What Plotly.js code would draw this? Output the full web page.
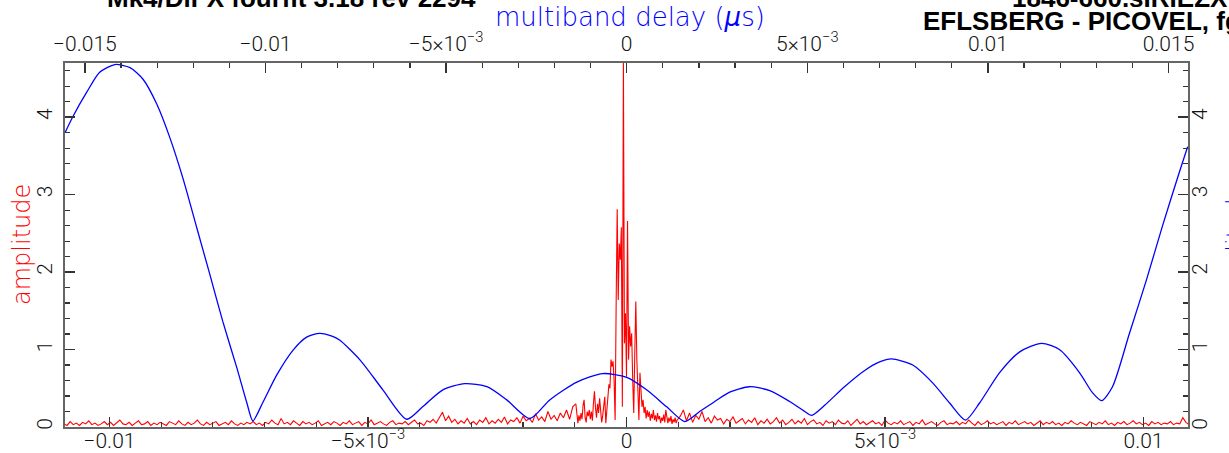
<!DOCTYPE html>
<html>
<head>
<meta charset="utf-8">
<script src="https://cdn.plot.ly/plotly-3.0.1.min.js"></script>
<style>html,body{margin:0;padding:0;background:#fff;}#chart{width:1229px;height:453px;}</style>
</head>
<body>
<div id="chart"></div>
<script>
// ---- Multiband delay resolution function (blue, top axis, µs) ----
const mbdDelay = [-0.01555,-0.01533,-0.01494,-0.01459,-0.01417,-0.01375,-0.01339,-0.01301,-0.01265,-0.01229,
  -0.01190,-0.01154,-0.01118,-0.01079,-0.01052,-0.01035,-0.01007,-0.00969,-0.00924,-0.00886,
  -0.00850,-0.00814,-0.00794,-0.00739,-0.00675,-0.00609,-0.00565,-0.00509,-0.00448,-0.00387,
  -0.00332,-0.00268,-0.00213,-0.00138,-0.00066,0.0,0.00055,0.00111,0.00161,0.00202,
  0.00244,0.00285,0.00340,0.00396,0.00451,0.00493,0.00512,0.00548,0.00603,0.00659,
  0.00700,0.00733,0.00792,0.00847,0.00894,0.00938,0.00977,0.01032,0.01088,0.01149,
  0.01198,0.01254,0.01290,0.01315,0.01345,0.01392,0.01439,0.01483,0.01530,0.01553];
const mbdAmp = [3.80,4.01,4.33,4.58,4.68,4.64,4.49,4.17,3.74,3.22,
  2.57,1.97,1.36,0.76,0.32,0.08,0.32,0.67,0.99,1.16,
  1.21,1.17,1.12,0.87,0.48,0.10,0.26,0.48,0.56,0.52,
  0.35,0.11,0.35,0.58,0.69,0.64,0.48,0.26,0.07,0.20,
  0.33,0.45,0.52,0.47,0.33,0.20,0.15,0.28,0.52,0.73,
  0.84,0.88,0.80,0.57,0.31,0.09,0.31,0.70,0.97,1.08,
  1.00,0.70,0.44,0.34,0.52,1.21,1.90,2.59,3.29,3.62];

// ---- Singleband delay function (red, bottom axis, µs) ----
// left wing: starts -0.01088, step 0.00006
const sbdLeftStart = -0.01088, sbdLeftStep = 0.00006;
const sbdLeft = [.04,.02,.07,.03,.05,.02,.06,.04,.08,.03,
  .05,.02,.04,.07,.03,.06,.02,.05,.09,.04,
  .03,.06,.02,.05,.08,.03,.04,.07,.02,.05,
  .03,.06,.04,.02,.07,.05,.03,.08,.04,.02,
  .06,.03,.05,.09,.04,.02,.06,.03,.05,.07,
  .02,.04,.06,.03,.08,.04,.02,.05,.03,.06,
  .04,.07,.03,.05,.02,.06,.04,.09,.05,.03,
  .11,.04,.06,.03,.08,.05,.02,.07,.04,.06,
  .03,.05,.08,.02,.04,.06,.03,.07,.05,.02,
  .06,.04,.08,.03,.05,.07,.02,.06,.04,.09,
  .03,.05,.07,.04,.02,.06,.08,.03,.05,.04,
  .07,.03,.06,.09,.04,.05,.02,.08,.06,.10,
  .05,.13,.19,.08,.14,.06,.10,.04,.08,.05,
  .11,.04,.07,.03,.09,.06,.12,.04,.08,.05,
  .10,.06,.13,.04,.09,.07,.12,.05,.14,.08,
  .11,.06,.17,.09,.13,.07,.20,.10,.15,.08,
  .18,.12,.22,.10,.26,.30];
// centre: starts -0.00098, step 0.00002
const sbdCenterStart = -0.00098, sbdCenterStep = 0.00002;
const sbdCenter = [0.30,0.12,0.05,0.15,0.08,0.18,0.10,0.28,0.35,0.12,
  0.06,0.20,0.14,0.22,0.10,0.20,0.08,0.30,0.46,0.25,
  0.12,0.30,0.18,0.37,0.22,0.06,0.15,0.32,0.39,0.05,
  0.20,0.39,0.55,0.50,0.87,0.78,0.85,0.60,0.09,1.60,
  2.81,1.64,2.37,2.16,2.58,0.26,4.75,1.08,1.47,0.65,
  2.66,0.87,1.30,1.04,1.21,0.61,0.18,0.95,1.62,0.87,
  0.39,0.09,0.70,0.43,0.26,0.35,0.18,0.26,0.11,0.22,
  0.13,0.20,0.08,0.17,0.11,0.22,0.09,0.15,0.07,0.18,
  0.10,0.14,0.05,0.12,0.08,0.16,0.06,0.22,0.10,0.05,
  0.12,0.07,0.14,0.04,0.10,0.06,0.12,0.05,0.09];
// right wing: starts 0.00098, step 0.00006
const sbdRightStart = 0.00098, sbdRightStep = 0.00006;
const sbdRight = [.09,.14,.22,.08,.18,.06,.15,.10,.20,.07,
  .12,.05,.14,.09,.11,.04,.10,.07,.13,.05,
  .08,.11,.04,.09,.06,.12,.03,.08,.05,.10,
  .04,.07,.12,.05,.09,.03,.06,.10,.04,.08,
  .05,.11,.03,.07,.09,.04,.06,.02,.08,.05,
  .07,.03,.09,.05,.04,.08,.02,.06,.10,.04,
  .07,.03,.05,.08,.04,.06,.02,.09,.05,.03,
  .06,.04,.08,.03,.05,.07,.02,.06,.04,.09,
  .03,.05,.07,.04,.02,.06,.08,.03,.05,.04,
  .07,.03,.06,.04,.09,.05,.02,.07,.03,.05,
  .08,.04,.06,.03,.05,.07,.02,.06,.04,.08,
  .03,.05,.07,.04,.06,.02,.05,.08,.03,.06,
  .04,.07,.03,.05,.02,.06,.04,.08,.05,.03,
  .06,.04,.02,.07,.05,.03,.06,.04,.08,.03,
  .05,.02,.06,.04,.07,.03,.05,.08,.04,.06,
  .03,.05,.02,.07,.04,.06,.03,.05,.04,.07,
  .03,.05,.04,.12,.06,.03];

// ---- tick labels ----
const sbdTickVals = [-0.01,-0.005,0,0.005,0.01];
const sbdTickText = ['\u22120.01','\u22125\u00d710<sup>\u22123</sup>','0','5\u00d710<sup>\u22123</sup>','0.01'];
const mbdTickVals = [-0.015,-0.01,-0.005,0,0.005,0.01,0.015];
const mbdTickText = ['\u22120.015','\u22120.01','\u22125\u00d710<sup>\u22123</sup>','0','5\u00d710<sup>\u22123</sup>','0.01','0.015'];
const ampTickVals = [0,1,2,3,4];

const FONT = 'Roboto, Liberation Sans, Arial, sans-serif';
const TFONT = 'DejaVu Sans, Roboto, sans-serif';
const BOLD = 'Liberation Sans, Arial, sans-serif';
const red = '#ff0000', blue = '#0000ff';

const redLine = {color: red, width: 1.1};
const traces = [
  {type:'scatter', mode:'lines', y: sbdLeft, x0: sbdLeftStart, dx: sbdLeftStep, xaxis:'x', yaxis:'y', line: redLine, hoverinfo:'skip'},
  {type:'scatter', mode:'lines', y: sbdCenter, x0: sbdCenterStart, dx: sbdCenterStep, xaxis:'x', yaxis:'y', line: redLine, hoverinfo:'skip'},
  {type:'scatter', mode:'lines', y: sbdRight, x0: sbdRightStart, dx: sbdRightStep, xaxis:'x', yaxis:'y', line: redLine, hoverinfo:'skip'},
  {type:'scatter', mode:'lines', x: mbdDelay, y: mbdAmp, xaxis:'x2', yaxis:'y2', line:{color: blue, width: 1.3, shape:'spline', smoothing:0.7}, hoverinfo:'skip'}
];

const tickFont = {family:FONT, size:21, color:'#111', weight:300};
const axCommon = {
  showgrid:false, zeroline:false, showline:true, linecolor:'#666', linewidth:2,
  ticks:'inside', ticklen:10, tickwidth:1.5, tickcolor:'#333',
  tickfont: tickFont
};
const minorX = {dtick:0.001, tick0:0, ticks:'inside', ticklen:5, tickwidth:1.2, tickcolor:'#333'};
const minorY = {dtick:0.2, tick0:0, ticks:'inside', ticklen:5, tickwidth:1.2, tickcolor:'#333'};

const px = v => (v - 65) / 1123;      // pixel x -> paper
const py = v => (427 - v) / 364;      // pixel y -> paper

const layout = {
  width:1229, height:453,
  margin:{l:65, r:41, t:63, b:26, pad:0},
  paper_bgcolor:'#fff', plot_bgcolor:'#fff',
  showlegend:false,
  xaxis: Object.assign({}, axCommon, {
    range:[-0.01086, 0.01086], tickmode:'array', tickvals: sbdTickVals, ticktext: sbdTickText,
    minor: minorX, ticklabelstandoff: -6
  }),
  xaxis2: Object.assign({}, axCommon, {
    range:[-0.01555, 0.01554], overlaying:'x', side:'top', anchor:'y',
    tickmode:'array', tickvals: mbdTickVals, ticktext: mbdTickText,
    minor: minorX, ticklabelstandoff: 2
  }),
  yaxis: Object.assign({}, axCommon, {
    range:[0, 4.7], tickmode:'array', tickvals: ampTickVals, tickangle:-90,
    minor: minorY, ticklabelstandoff: 3
  }),
  yaxis2: Object.assign({}, axCommon, {
    range:[0, 4.7], overlaying:'y', side:'right', anchor:'x',
    tickmode:'array', tickvals: ampTickVals, tickangle:-90,
    minor: minorY, ticklabelstandoff: -8
  }),
  annotations: [
    {text:'multiband delay (<i>\u03bc</i>s)', xref:'paper', yref:'paper', x:px(630), y:py(17), xanchor:'center', yanchor:'middle',
     showarrow:false, font:{family:TFONT, size:26, color:blue, weight:200}},
    {text:'singleband delay (<i>\u03bc</i>s)', xref:'paper', yref:'paper', x:px(585), y:py(449), xanchor:'center', yanchor:'top',
     showarrow:false, font:{family:TFONT, size:26, color:red, weight:200}},
    {text:'amplitude', xref:'paper', yref:'paper', x:px(22), y:py(245), xanchor:'center', yanchor:'middle', textangle:-90,
     showarrow:false, font:{family:TFONT, size:24, color:red, weight:200}},
    {text:'amplitude', xref:'paper', yref:'paper', x:px(1236), y:py(245), xanchor:'center', yanchor:'middle', textangle:-90,
     showarrow:false, font:{family:TFONT, size:24, color:blue, weight:200}},
    {text:'<b>Mk4/DiFX fourfit 3.18 rev 2294</b>', xref:'paper', yref:'paper', x:px(478), y:py(-2), xanchor:'right', yanchor:'middle',
     showarrow:false, font:{family:BOLD, size:26, color:'#000'}},
    {text:'<b>1846-660.sIRIEZX</b>', xref:'paper', yref:'paper', x:px(1010), y:py(-2), xanchor:'left', yanchor:'middle',
     showarrow:false, font:{family:BOLD, size:26, color:'#000'}},
    {text:'<b>EFLSBERG - PICOVEL, fgroup X, pol LL</b>', xref:'paper', yref:'paper', x:px(921), y:py(21), xanchor:'left', yanchor:'middle',
     showarrow:false, font:{family:BOLD, size:26, color:'#000'}}
  ]
};

Plotly.newPlot('chart', traces, layout, {staticPlot:true, displayModeBar:false});
</script>
</body>
</html>
